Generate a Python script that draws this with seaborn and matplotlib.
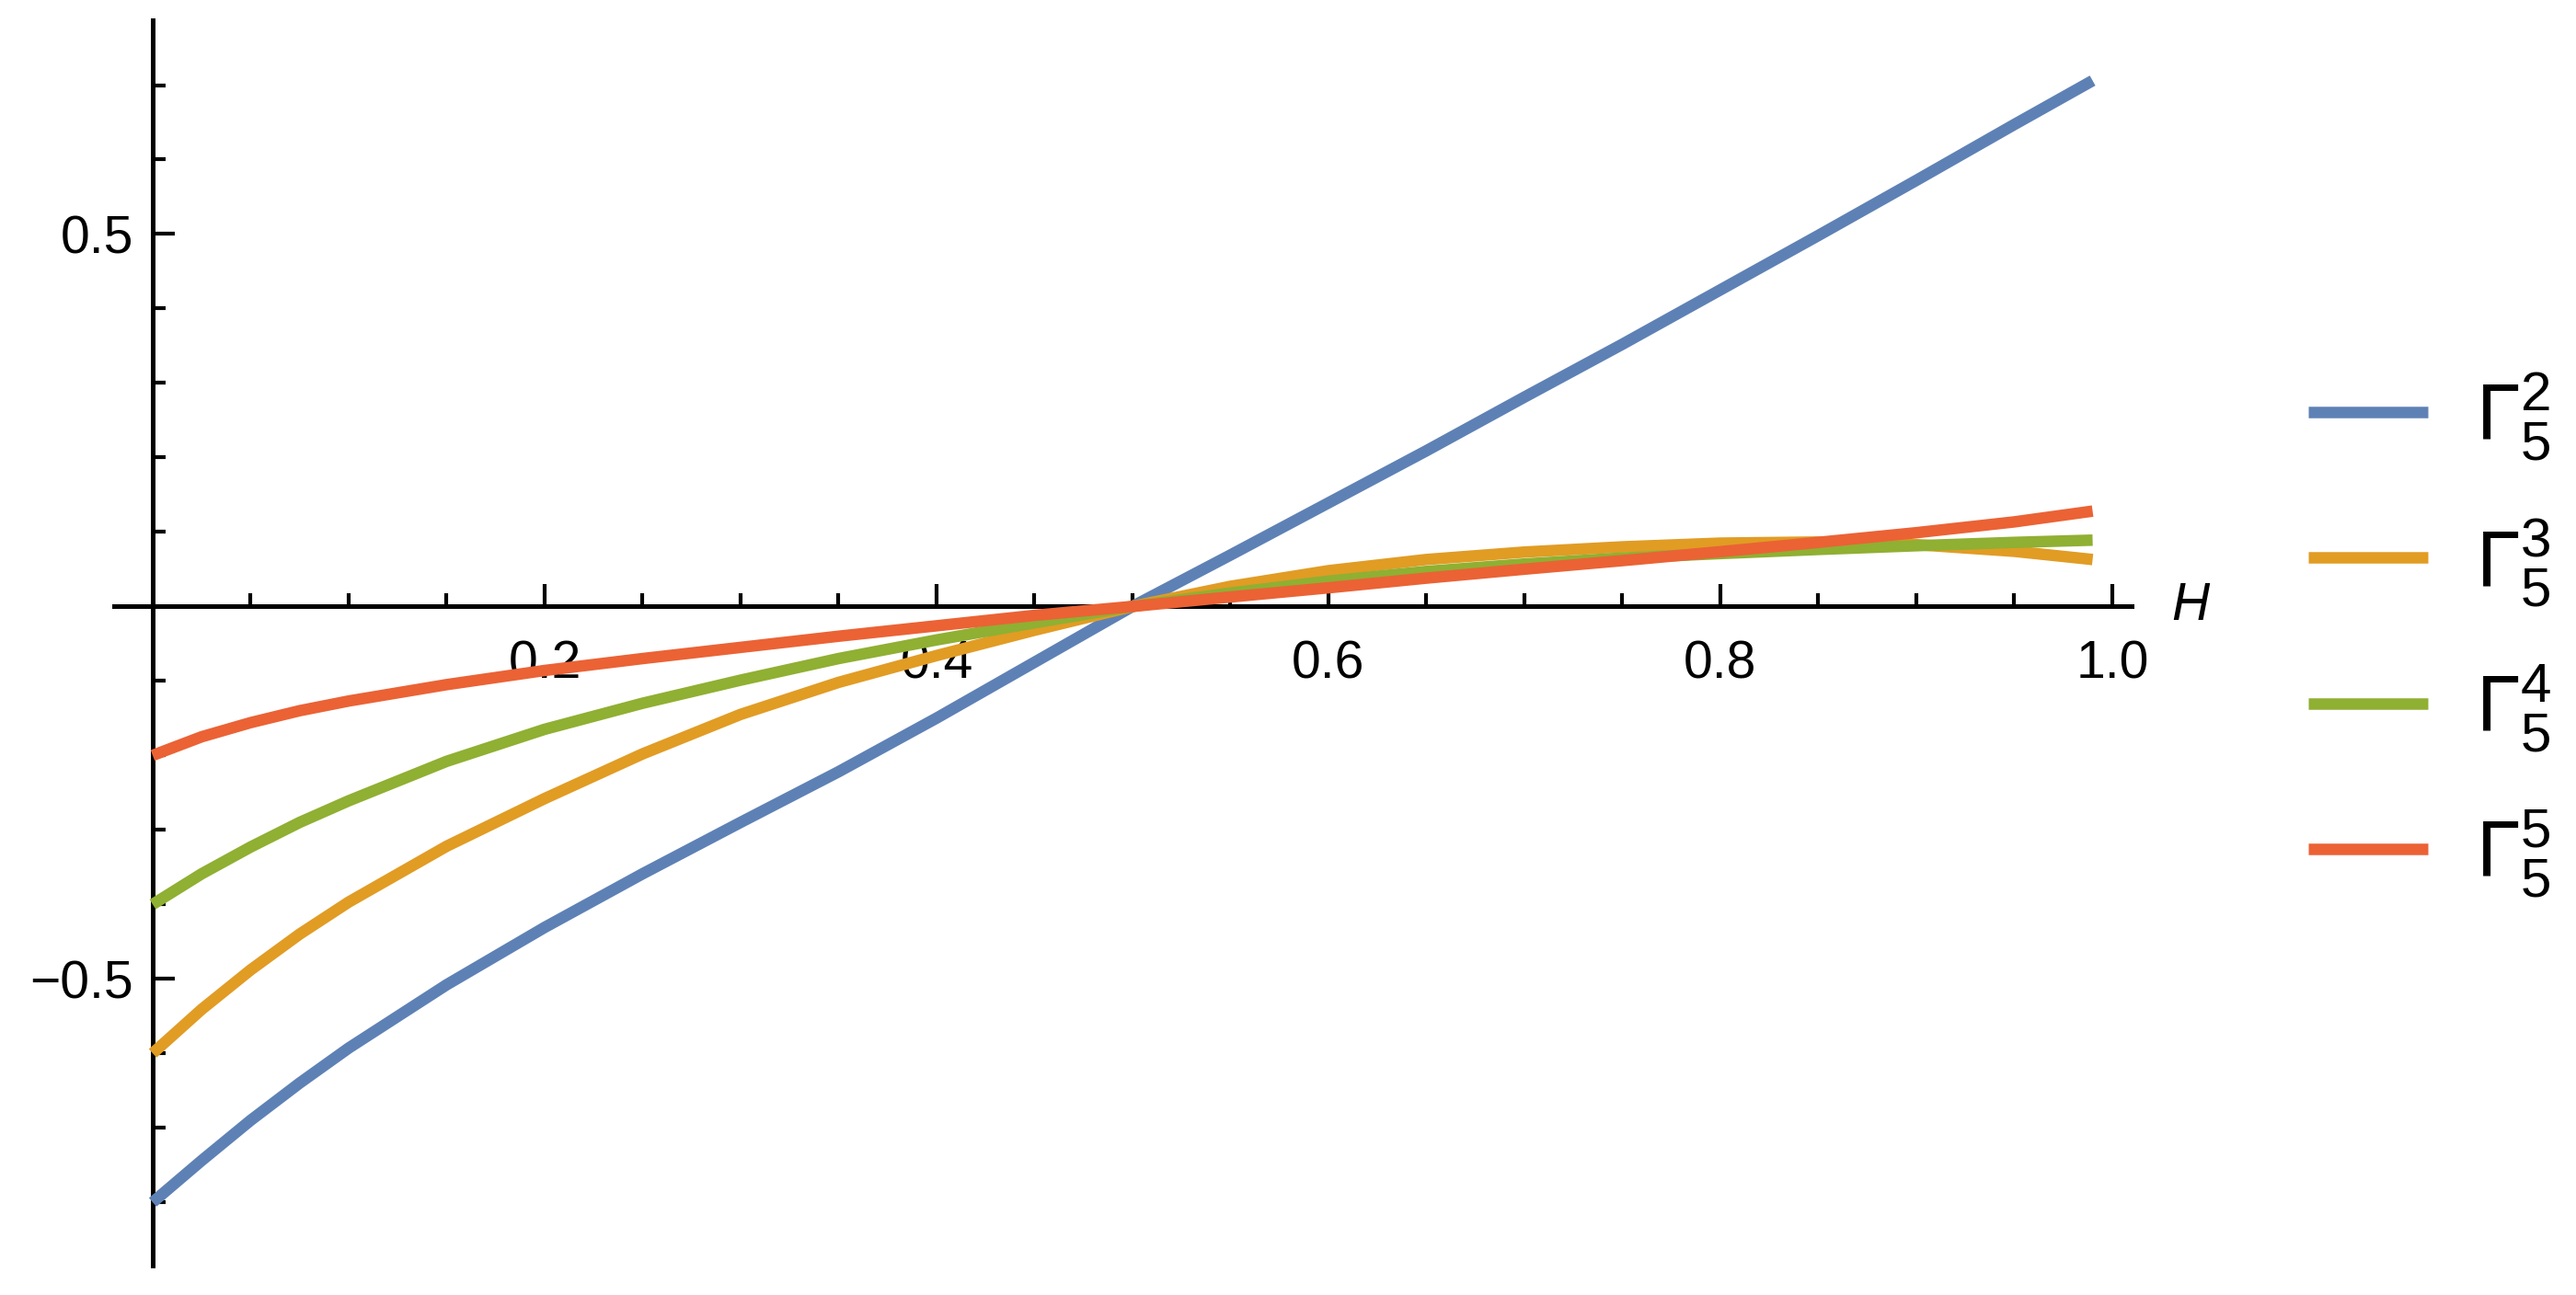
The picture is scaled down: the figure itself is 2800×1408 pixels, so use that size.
import numpy as np
import pandas as pd
import matplotlib
matplotlib.use("Agg")
import matplotlib.pyplot as plt
import seaborn as sns
from matplotlib.ticker import FixedLocator

# ---- data ----
H = [0.0, 0.025, 0.05, 0.075, 0.1, 0.15, 0.2, 0.25, 0.3, 0.35, 0.4, 0.45, 0.5,
     0.55, 0.6, 0.65, 0.7, 0.75, 0.8, 0.85, 0.9, 0.95, 0.99]
gamma_2 = [-0.800, -0.744, -0.690, -0.640, -0.593, -0.508, -0.431, -0.359, -0.290,
           -0.222, -0.150, -0.075, 0.000, 0.069, 0.139, 0.209, 0.281, 0.352, 0.425,
           0.498, 0.572, 0.647, 0.706]
gamma_3 = [-0.600, -0.541, -0.488, -0.440, -0.397, -0.322, -0.258, -0.198, -0.145,
           -0.102, -0.066, -0.032, 0.000, 0.027, 0.048, 0.063, 0.073, 0.080, 0.085,
           0.0865, 0.083, 0.074, 0.063]
gamma_4 = [-0.400, -0.359, -0.323, -0.290, -0.261, -0.208, -0.165, -0.130, -0.099,
           -0.070, -0.045, -0.022, 0.000, 0.018, 0.034, 0.047, 0.057, 0.065, 0.071,
           0.0765, 0.0815, 0.086, 0.089]
gamma_5 = [-0.200, -0.175, -0.156, -0.140, -0.127, -0.105, -0.086, -0.070, -0.055,
           -0.040, -0.026, -0.012, 0.000, 0.0127, 0.025, 0.038, 0.050, 0.0615, 0.0735,
           0.086, 0.099, 0.1135, 0.128]
series_names = [r"$\Gamma_5^2$", r"$\Gamma_5^3$", r"$\Gamma_5^4$", r"$\Gamma_5^5$"]
series_colors = ["#5E81B5", "#E19C24", "#8FB032", "#EB6235"]

x_major = [0.2, 0.4, 0.6, 0.8, 1.0]
x_major_labels = ["0.2", "0.4", "0.6", "0.8", "1.0"]
y_major = [-0.5, 0.5]
y_major_labels = ["\u22120.5", "0.5"]
x_minor = [0.05, 0.1, 0.15, 0.25, 0.3, 0.35, 0.45, 0.5, 0.55, 0.65, 0.7, 0.75,
           0.85, 0.9, 0.95]
y_minor = [-0.8, -0.7, -0.6, -0.4, -0.3, -0.2, -0.1, 0.1, 0.2, 0.3, 0.4, 0.6, 0.7]
x_label = "H"

# ---- style ----
sns.set_theme(style="white")
plt.rcParams["font.family"] = ["Liberation Sans", "DejaVu Sans"]
plt.rcParams["mathtext.fontset"] = "custom"
plt.rcParams["mathtext.rm"] = "Liberation Sans"
plt.rcParams["mathtext.it"] = "Liberation Sans:italic"
plt.rcParams["axes.unicode_minus"] = True
plt.rcParams["text.color"] = "black"

frames = []
for name, vals in zip(series_names, [gamma_2, gamma_3, gamma_4, gamma_5]):
    frames.append(pd.DataFrame({"H": H, "value": vals, "series": name}))
df = pd.concat(frames, ignore_index=True)

fig = plt.figure(figsize=(28, 14.08), dpi=100)
ax = fig.add_axes([0.04421, 0.02273, 0.7832, 0.9616])

sns.lineplot(data=df, x="H", y="value", hue="series", hue_order=series_names,
             palette=dict(zip(series_names, series_colors)), linewidth=9,
             estimator=None, sort=False, legend=False, ax=ax)
for ln in ax.lines:
    ln.set_solid_capstyle("butt")
    ln.set_solid_joinstyle("round")
    ln.set_zorder(3)

xlim = (-0.0198, 1.0098)
ylim = (-0.885, 0.787)
ax.set_xlim(*xlim)
ax.set_ylim(*ylim)

for s in ["top", "right"]:
    ax.spines[s].set_visible(False)
for s in ["left", "bottom"]:
    ax.spines[s].set_position(("data", 0))
    ax.spines[s].set_linewidth(3.6)
    ax.spines[s].set_color("black")
    ax.spines[s].set_zorder(2)

ax.set_xticks(x_major, x_major_labels)
ax.set_yticks(y_major, y_major_labels)
ax.xaxis.set_minor_locator(FixedLocator(x_minor))
ax.yaxis.set_minor_locator(FixedLocator(y_minor))
ax.tick_params(which="both", direction="in", color="black", width=3.0,
               bottom=True, left=True, labelcolor="black")
ax.tick_params(which="major", length=17.3)
ax.tick_params(which="minor", length=10)
ax.tick_params(axis="x", which="major", pad=26, labelsize=41)
ax.tick_params(axis="y", which="major", pad=15, labelsize=41)

ax.set_ylabel("")
ax.set_xlabel(x_label, fontstyle="italic", fontsize=41, color="black",
              ha="left", va="center")
y0 = (0 - ylim[0]) / (ylim[1] - ylim[0])
ax.xaxis.set_label_coords(1.020, y0)

handles = list(ax.lines[:4])
leg = fig.legend(handles, series_names, loc="center left",
                 bbox_to_anchor=(0.8961, 0.5096), frameon=False, fontsize=62,
                 handlelength=1.51, handletextpad=0.6, labelspacing=0.68,
                 borderpad=0, borderaxespad=0)
for t in leg.get_texts():
    t.set_color("black")

fig.savefig("out.png", dpi=100, facecolor="white")
